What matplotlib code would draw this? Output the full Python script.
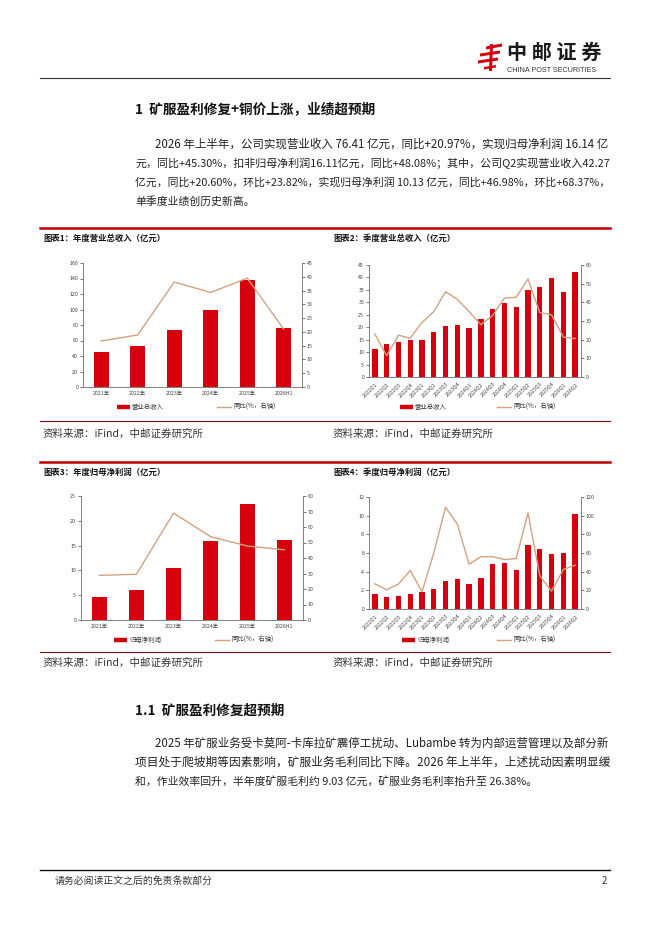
import matplotlib
matplotlib.use("Agg")
import matplotlib.pyplot as plt
from matplotlib.lines import Line2D
from matplotlib.patches import Polygon

# every glyph used on the page exists in Noto Sans CJK, so no fallback list
plt.rcParams['font.family'] = 'Noto Sans CJK SC'

W, H = 662, 936
RED = '#D7000F'
TAN = '#D3A27F'
GRAY = '#808080'

# ---- data ----
years = ['2021年', '2022年', '2023年', '2024年', '2025年', '2026H1']
quarters = ['2022Q1', '2022Q2', '2022Q3', '2022Q4',
            '2023Q1', '2023Q2', '2023Q3', '2023Q4',
            '2024Q1', '2024Q2', '2024Q3', '2024Q4',
            '2025Q1', '2025Q2', '2025Q3', '2025Q4',
            '2026Q1', '2026Q2']

rev_year = [45.0, 53.5, 73.5, 99.0, 138.5, 76.41]
rev_year_yoy = [16.7, 18.9, 38.1, 34.3, 39.5, 20.97]

rev_q = [11.4, 13.4, 14.0, 15.0, 15.0, 18.2, 20.4, 21.0, 19.8, 23.2,
         27.2, 29.8, 28.2, 35.0, 36.2, 39.7, 34.2, 42.27]
rev_q_yoy = [23.0, 11.4, 22.4, 20.8, 29.2, 35.0, 45.7, 41.6, 35.0, 28.1,
             32.9, 42.3, 42.7, 52.5, 34.5, 33.3, 21.4, 20.60]

np_year = [4.7, 6.05, 10.4, 15.9, 23.4, 16.14]
np_year_yoy = [28.8, 29.5, 69.0, 53.8, 47.7, 45.30]

np_q = [1.57, 1.28, 1.39, 1.64, 1.82, 2.10, 3.03, 3.17, 2.67, 3.31,
        4.77, 4.91, 4.17, 6.84, 6.41, 5.84, 5.98, 10.13]
np_q_yoy = [27.0, 20.6, 26.7, 41.3, 18.5, 60.0, 109.0, 91.0, 48.0, 56.0,
            56.0, 53.0, 54.0, 103.0, 35.6, 19.2, 42.3, 46.98]

para1 = [
    "2026 年上半年，公司实现营业收入 76.41 亿元，同比+20.97%，实现归母净利润 16.14 亿",
    "元，同比+45.30%，扣非归母净利润16.11亿元，同比+48.08%；其中，公司Q2实现营业收入42.27",
    "亿元，同比+20.60%，环比+23.82%，实现归母净利润 10.13 亿元，同比+46.98%，环比+68.37%，",
    "单季度业绩创历史新高。",
]
para2 = [
    "2025 年矿服业务受卡莫阿-卡库拉矿震停工扰动、Lubambe 转为内部运营管理以及部分新",
    "项目处于爬坡期等因素影响，矿服业务毛利同比下降。2026 年上半年，上述扰动因素明显缓",
    "和，作业效率回升，半年度矿服毛利约 9.03 亿元，矿服业务毛利率抬升至 26.38%。",
]
source = "资料来源：iFind，中邮证券研究所"

fig = plt.figure(figsize=(W / 100, H / 100), dpi=100)
page = fig.add_axes([0, 0, 1, 1])
page.set_xlim(0, W)
page.set_ylim(H, 0)
page.axis('off')
renderer = fig.canvas.get_renderer()


def hline(y, x0=40, x1=610, color='black', lw=0.8):
    page.add_line(Line2D([x0, x1], [y, y], color=color, lw=lw))


def txt(x, y, s, size, **kw):
    return page.text(x, y, s, fontsize=size, va='center', ha=kw.pop('ha', 'left'), **kw)


def fit(x0, x1, y, s, size, **kw):
    # whole line as one text, size nudged so it fills x0..x1
    t = txt(x0, y, s, size, **kw)
    w = t.get_window_extent(renderer).width
    scale = min(1.08, max(0.93, (x1 - x0) / w))
    t.set_fontsize(size * scale)
    return t


def chart(x0, y0, x1, y1, cats, bars, yoy, bmax, bstep, ymax, ystep, rotate, width):
    ax = fig.add_axes([x0 / W, 1 - y1 / H, (x1 - x0) / W, (y1 - y0) / H])
    xs = range(len(cats))
    ax.bar(xs, bars, width=width, color=RED, zorder=2)
    ax.set_xlim(-0.5, len(cats) - 0.5)
    ax.set_ylim(0, bmax)
    ax.set_yticks([v for v in range(0, bmax + 1, bstep)])
    ax2 = ax.twinx()
    ax2.plot(xs, yoy, color=TAN, lw=1.0, zorder=3)
    ax2.set_ylim(0, ymax)
    ax2.set_yticks([v for v in range(0, ymax + 1, ystep)])
    for a in (ax, ax2):
        for sp in a.spines.values():
            sp.set_color(GRAY)
            sp.set_linewidth(0.6)
        a.spines['top'].set_visible(False)
        a.tick_params(labelsize=3.8, colors='#404040', length=2, width=0.5, pad=1.5)
    ax.set_xticks(list(xs))
    if rotate:
        ax.set_xticklabels(cats, rotation=45, ha='right', rotation_mode='anchor')
    else:
        ax.set_xticklabels(cats)
    ax.tick_params(axis='x', length=0, pad=3)
    return ax


def legend(xb, xl, y, bar_label, line_label):
    page.add_line(Line2D([xb, xb + 13], [y, y], color=RED, lw=3.2, solid_capstyle='butt'))
    txt(xb + 15, y, bar_label, 4.6, color='#333333')
    page.add_line(Line2D([xl, xl + 14], [y, y], color=TAN, lw=1.0))
    txt(xl + 16, y, line_label, 4.6, color='#333333')


# ---- header / logo ----
logo = [
    [(486, 46.5), (502, 43.5), (502, 46.5), (486, 49.5)],
    [(480, 53.5), (500, 50.5), (500, 53.5), (480, 56.5)],
    [(478, 60.5), (498, 57.5), (498, 60.5), (478, 63.5)],
    [(484, 67), (496, 65), (496, 67.5), (484, 69.5)],
    [(490, 44), (493, 44), (492, 71), (489, 71)],
]
for pts in logo:
    page.add_patch(Polygon(pts, closed=True, color=RED, lw=0))
txt(507, 52, "中 邮 证 券", 14.5, fontweight='bold', color='#1a1a1a')
page.text(507, 70, "CHINA POST SECURITIES", fontsize=5.2, va='center',
          family='Liberation Sans', color='#333333')
hline(78, color='#333333', lw=0.8)

# ---- section 1 ----
txt(135, 110, "1  矿服盈利修复+铜价上涨，业绩超预期", 9.8, fontweight='bold', color='#111111')
for i, line in enumerate(para1):
    x0 = 155 if i == 0 else 135
    if i < len(para1) - 1:
        fit(x0, 610, 144 + i * 19, line, 7.8, color='#222222')
    else:
        txt(x0, 144 + i * 19, line, 7.8, color='#222222')

hline(228, color='#C00000', lw=1.8)
txt(43, 238, "图表1：年度营业总收入（亿元）", 6, fontweight='bold', color='#111111')
txt(333, 238, "图表2：季度营业总收入（亿元）", 6, fontweight='bold', color='#111111')

chart(83, 263, 302, 387, years, rev_year, rev_year_yoy, 160, 20, 45, 5, False, 0.42)
legend(117, 217, 407, "营业总收入", "同比(%，右轴)")
chart(369, 265, 581, 377, quarters, rev_q, rev_q_yoy, 45, 5, 60, 10, True, 0.45)
legend(400, 497, 407, "营业总收入", "同比(%，右轴)")

hline(421, color='#7A1010', lw=0.8)
fit(43, 205, 434, source, 7, color='#333333')
fit(333, 495, 434, source, 7, color='#333333')

hline(462, color='#C00000', lw=1.8)
txt(43, 472, "图表3：年度归母净利润（亿元）", 6, fontweight='bold', color='#111111')
txt(333, 472, "图表4：季度归母净利润（亿元）", 6, fontweight='bold', color='#111111')

chart(81, 496, 303, 620, years, np_year, np_year_yoy, 25, 5, 80, 10, False, 0.42)
legend(114, 215, 640, "归母净利润", "同比(%，右轴)")
chart(369, 497, 581, 609, quarters, np_q, np_q_yoy, 12, 2, 120, 20, True, 0.45)
legend(402, 497, 640, "归母净利润", "同比(%，右轴)")

hline(652, color='#7A1010', lw=0.8)
fit(43, 205, 663, source, 7, color='#333333')
fit(333, 495, 663, source, 7, color='#333333')

# ---- section 1.1 ----
txt(135, 711, "1.1  矿服盈利修复超预期", 9.8, fontweight='bold', color='#111111')
for i, line in enumerate(para2):
    x0 = 155 if i == 0 else 135
    if i < len(para2) - 1:
        fit(x0, 610, 743 + i * 19, line, 7.8, color='#222222')
    else:
        txt(x0, 743 + i * 19, line, 7.8, color='#222222')

# ---- footer ----
hline(870, color='#111111', lw=1.0)
fit(55, 213, 881, "请务必阅读正文之后的免责条款部分", 7, color='#333333')
txt(607, 881, "2", 7, color='#333333', ha='right')

fig.savefig("out.png", dpi=100)
